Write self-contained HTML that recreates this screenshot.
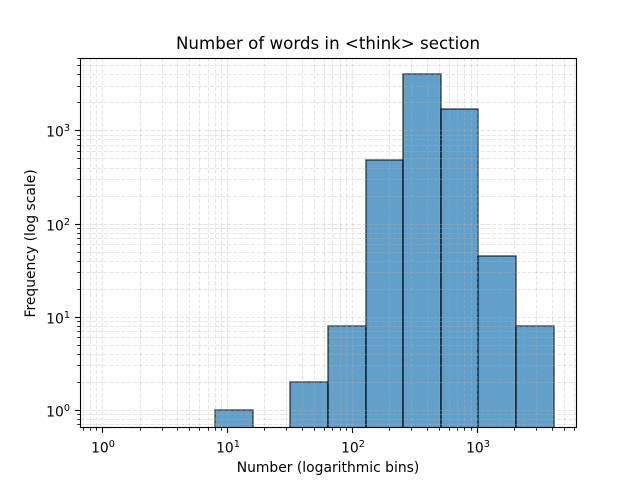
<!DOCTYPE html>
<html lang="en">
<head>
<meta charset="utf-8">
<title>Number of words in &lt;think&gt; section</title>
<style>
html,body{margin:0;padding:0;background:#fff;width:640px;height:480px;overflow:hidden}
svg{display:block}
text{font-family:"DejaVu Sans","Liberation Sans",sans-serif;fill:#000}
</style>
</head>
<body>
<svg id="chart" xmlns="http://www.w3.org/2000/svg" width="640" height="480" viewBox="0 0 640 480">
  <rect x="0" y="0" width="640" height="480" fill="#fff"/>
  <defs><clipPath id="plot-clip"><rect x="80" y="57.6" width="496" height="369.6"/></clipPath></defs>
  <g id="bars" clip-path="url(#plot-clip)"></g>
  <g id="grid" clip-path="url(#plot-clip)"></g>
  <g id="x-ticks"></g>
  <g id="y-ticks"></g>
  <rect x="80.5" y="58.5" width="496" height="369" fill="none" stroke="#000" stroke-width="1.11"/>
  <text x="328" y="49" font-size="16.67" text-anchor="middle">Number of words in &lt;think&gt; section</text>
  <text x="328" y="472" font-size="13.89" text-anchor="middle">Number (logarithmic bins)</text>
  <text transform="translate(35,243.4) rotate(-90)" font-size="13.89" text-anchor="middle">Frequency (log scale)</text>
</svg>
<script>
const binEdges = [1, 2, 4, 8, 16, 32, 64, 128, 256, 512, 1024, 2048, 4096];
const binCounts = [0, 0, 0, 1, 0, 2, 8, 490, 4100, 1720, 45, 8];
const xMajorTicks = [0, 1, 2, 3];
const yMajorTicks = [0, 1, 2, 3];

const SVG_NS = 'http://www.w3.org/2000/svg';
const plotLeft = 80, plotRight = 576, plotTop = 57.6, plotBottom = 427.2;
const xLogMin = -0.1806, xLogMax = 3.7925;
const yLogMin = -0.1815, yLogMax = 3.788;

function xScale(v) {
  return plotLeft + (Math.log10(v) - xLogMin) / (xLogMax - xLogMin) * (plotRight - plotLeft);
}
function yScale(v) {
  return plotBottom - (Math.log10(v) - yLogMin) / (yLogMax - yLogMin) * (plotBottom - plotTop);
}
function snap(p) {
  return Math.floor(p) + 0.5;
}
function make(tag, attrs, parent) {
  const el = document.createElementNS(SVG_NS, tag);
  for (const k in attrs) el.setAttribute(k, attrs[k]);
  parent.appendChild(el);
  return el;
}

const barsGroup = document.getElementById('bars');
const gridGroup = document.getElementById('grid');
const xTickGroup = document.getElementById('x-ticks');
const yTickGroup = document.getElementById('y-ticks');

binCounts.forEach(function (count, i) {
  if (count <= 0) return;
  const x0 = Math.round(xScale(binEdges[i]));
  const x1 = Math.round(xScale(binEdges[i + 1]));
  const top = Math.round(yScale(count));
  const bar = make('rect', {
    x: x0, y: top, width: x1 - x0, height: plotBottom + 4 - top,
    fill: '#1f77b4', 'fill-opacity': 0.7,
    stroke: '#000', 'stroke-opacity': 0.7, 'stroke-width': 1.39
  }, barsGroup);
  
  
});

function allTicks(logMin, logMax) {
  const out = [];
  for (let d = Math.floor(logMin); d <= Math.ceil(logMax); d++) {
    for (let m = 1; m <= 9; m++) {
      const v = m * Math.pow(10, d);
      const lg = Math.log10(v);
      if (lg >= logMin && lg <= logMax) out.push({ value: v, major: m === 1, exp: d });
    }
  }
  return out;
}

function gridLine(x1, y1, x2, y2) {
  const line = make('line', {
    x1: x1, y1: y1, x2: x2, y2: y2,
    stroke: '#b0b0b0', 'stroke-opacity': 0.32, 'stroke-width': 1.11,
    'stroke-dasharray': '4.11 1.78'
  }, gridGroup);
  
  
}

function exponentLabel(parent, x, y, anchor, exp) {
  const label = make('text', { x: x, y: y, 'text-anchor': anchor, 'font-size': 13.89 }, parent);
  
  
  const base = make('tspan', {}, label);
  base.textContent = '10';
  const sup = make('tspan', { 'font-size': 9.72, dy: -5.6 }, label);
  sup.textContent = String(exp);
}

allTicks(xLogMin, xLogMax).forEach(function (t) {
  const x = snap(xScale(t.value));
  gridLine(x, plotTop, x, plotBottom);
  const tick = make('line', {
    x1: x, y1: 427.5, x2: x, y2: 427.5 + (t.major ? 5.4 : 3.3),
    stroke: '#000', 'stroke-width': t.major ? 1.11 : 0.83
  }, xTickGroup);
  
  
  if (t.major && xMajorTicks.indexOf(t.exp) >= 0) {
    exponentLabel(xTickGroup, x + 0.5, 452.5, 'middle', t.exp);
  }
});

allTicks(yLogMin, yLogMax).forEach(function (t) {
  const y = snap(yScale(t.value));
  gridLine(plotLeft, y, plotRight, y);
  const tick = make('line', {
    x1: 80.5, y1: y, x2: 80.5 - (t.major ? 5.4 : 3.3), y2: y,
    stroke: '#000', 'stroke-width': t.major ? 1.11 : 0.83
  }, yTickGroup);
  
  
  if (t.major && yMajorTicks.indexOf(t.exp) >= 0) {
    exponentLabel(yTickGroup, 70, y + 6.2, 'end', t.exp);
  }
});
</script>
</body>
</html>
